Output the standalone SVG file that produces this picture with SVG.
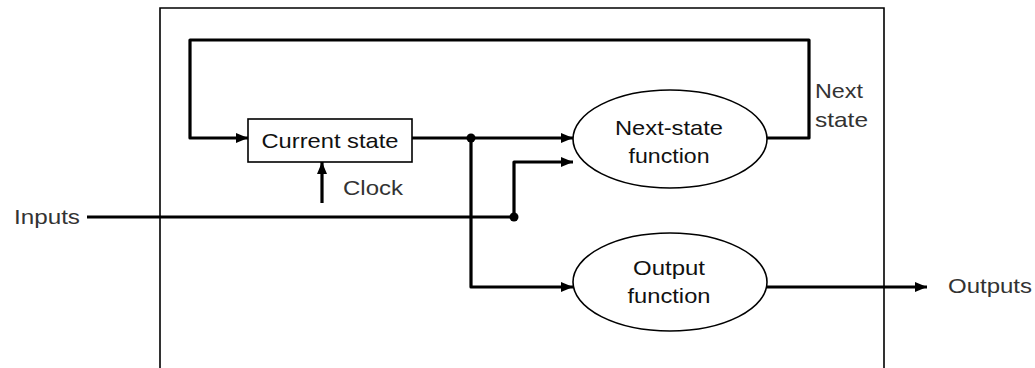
<svg xmlns="http://www.w3.org/2000/svg" width="1035" height="368" viewBox="0 0 1035 368">
  <defs>
    <marker id="arrow" viewBox="0 0 12 10" refX="12" refY="5" markerWidth="12" markerHeight="10" markerUnits="userSpaceOnUse" orient="auto">
      <path d="M0,0 L12,5 L0,10 Z" fill="#000"/>
    </marker>
    <style>
      .frame { fill: none; stroke: #000; stroke-width: 1.6; }
      .node { fill: #fff; stroke: #000; stroke-width: 1.6; }
      .wire { fill: none; stroke: #000; stroke-width: 3.2; stroke-linejoin: round; }
      .dot { fill: #000; }
      .inner { font-family: "Liberation Sans", Arial, sans-serif; font-size: 21px; fill: #111; text-anchor: middle; }
      .outer { font-family: "Liberation Sans", Arial, sans-serif; font-size: 21px; fill: #333; }
    </style>
  </defs>

  <!-- system boundary -->
  <path class="frame" d="M160,370 V8 H884 V370"/>

  <!-- connectors -->
  <g id="connectors">
    <!-- state feedback loop -->
    <path class="wire" d="M767,138 H809 V40 H190 V138 H248" marker-end="url(#arrow)"/>
    <!-- current state to next-state function -->
    <path class="wire" d="M412,138 H573" marker-end="url(#arrow)"/>
    <!-- current state to output function -->
    <path class="wire" d="M471,138 V287 H573" marker-end="url(#arrow)"/>
    <!-- inputs -->
    <path class="wire" d="M87,217 H514"/>
    <path class="wire" d="M514,217 V162 H573" marker-end="url(#arrow)"/>
    <!-- clock -->
    <path class="wire" d="M322,203 V162" marker-end="url(#arrow)"/>
    <!-- outputs -->
    <path class="wire" d="M766,287 H927" marker-end="url(#arrow)"/>
    <circle class="dot" cx="471" cy="138" r="4.5"/>
    <circle class="dot" cx="514" cy="217" r="4.5"/>
  </g>

  <g id="current-state">
    <rect class="node" x="248" y="119" width="164" height="43"/>
    <text class="inner" x="330" y="148" textLength="137" lengthAdjust="spacingAndGlyphs">Current state</text>
  </g>

  <g id="next-state-function">
    <ellipse class="node" cx="670" cy="139" rx="97" ry="49"/>
    <text class="inner" x="669" y="135" textLength="108" lengthAdjust="spacingAndGlyphs">Next-state</text>
    <text class="inner" x="669" y="163" textLength="81" lengthAdjust="spacingAndGlyphs">function</text>
  </g>

  <g id="output-function">
    <ellipse class="node" cx="670" cy="282" rx="97" ry="49"/>
    <text class="inner" x="669" y="275" textLength="72" lengthAdjust="spacingAndGlyphs">Output</text>
    <text class="inner" x="669" y="303" textLength="83" lengthAdjust="spacingAndGlyphs">function</text>
  </g>

  <!-- signal labels -->
  <g id="labels">
    <text class="outer" x="14" y="224" textLength="66" lengthAdjust="spacingAndGlyphs">Inputs</text>
    <text class="outer" x="343" y="195" textLength="60" lengthAdjust="spacingAndGlyphs">Clock</text>
    <text class="outer" x="815" y="98" textLength="48" lengthAdjust="spacingAndGlyphs">Next</text>
    <text class="outer" x="815" y="127" textLength="53" lengthAdjust="spacingAndGlyphs">state</text>
    <text class="outer" x="948" y="293" textLength="84" lengthAdjust="spacingAndGlyphs">Outputs</text>
  </g>
</svg>
